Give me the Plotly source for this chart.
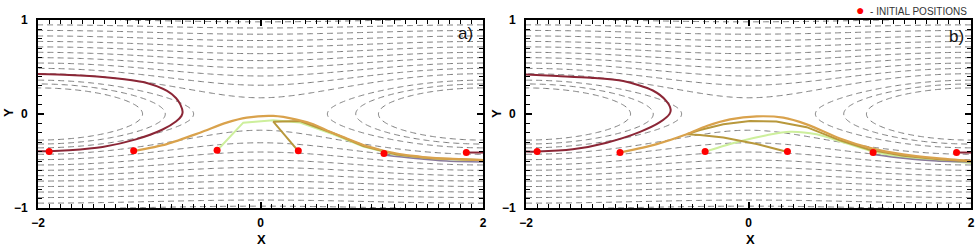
import numpy as np
import plotly.graph_objects as go

# ---------------- data ----------------
# background flow (cat's-eye streamfunction) parameters
field_eps = 0.405
field_a = 3.0
field_step_outer = 0.062
inner_level_start = -0.013
inner_level_step = 0.042
inner_level_end = 0.075

# initial positions
dots_a_x = [-1.90, -1.14, -0.39, 0.34, 1.11, 1.85]
dots_a_y = [-0.40, -0.39, -0.385, -0.39, -0.42, -0.41]
dots_b_x = [-1.90, -1.155, -0.39, 0.35, 1.12, 1.87]
dots_b_y = [-0.40, -0.41, -0.40, -0.40, -0.41, -0.41]

# panel a trajectories
maroon_a_x = [-2.00, -1.90, -1.72, -1.42, -1.12, -0.88, -0.76, -0.71, -0.70, -0.72, -0.76, -0.84, -1.03, -1.42, -1.72, -2.00]
maroon_a_y = [-0.395, -0.395, -0.385, -0.35, -0.27, -0.165, -0.08, -0.02, 0.02, 0.10, 0.17, 0.245, 0.333, 0.394, 0.415, 0.425]
maroon_a2_x = [1.85, 2.00]
maroon_a2_y = [-0.41, -0.41]
orange_a_x = [-1.134, -0.843, -0.544, -0.304, -0.124, 0.115, 0.325, 0.475, 0.625, 0.775, 0.924, 1.074, 1.224, 1.373, 1.524, 1.674, 2.00]
orange_a_y = [-0.394, -0.32, -0.199, -0.092, -0.039, -0.021, -0.06, -0.11, -0.19, -0.26, -0.33, -0.38, -0.42, -0.445, -0.465, -0.475, -0.49]
green_a_x = [-0.388, -0.155, 0.115, 0.355, 0.654, 0.924, 1.224, 1.524, 2.00]
green_a_y = [-0.386, -0.092, -0.067, -0.09, -0.215, -0.345, -0.435, -0.475, -0.495]
olive_a_x = [0.34, 0.115, 0.355, 0.654, 0.924, 1.224, 1.524, 2.00]
olive_a_y = [-0.394, -0.082, -0.075, -0.205, -0.34, -0.43, -0.47, -0.49]
purple_a_x = [1.11, 1.373, 1.674, 2.00]
purple_a_y = [-0.435, -0.47, -0.50, -0.51]

# panel b trajectories
maroon_b_x = [-2.00, -1.90, -1.58, -1.275, -0.975, -0.80, -0.71, -0.70, -0.74, -0.86, -1.126, -1.42, -1.72, -2.00]
maroon_b_y = [-0.40, -0.40, -0.376, -0.305, -0.19, -0.09, 0.0, 0.05, 0.14, 0.25, 0.35, 0.386, 0.404, 0.42]
maroon_b2_x = [1.87, 2.00]
maroon_b2_y = [-0.41, -0.41]
orange_b_x = [-1.155, -0.825, -0.555, -0.376, -0.166, 0.074, 0.313, 0.523, 0.822, 1.09, 1.39, 1.69, 2.00]
orange_b_y = [-0.41, -0.32, -0.216, -0.128, -0.057, -0.025, -0.039, -0.11, -0.26, -0.36, -0.43, -0.47, -0.50]
olive_b_x = [0.352, 0.074, -0.226, -0.436, -0.555, -0.436, -0.226, 0.013, 0.25, 0.523, 0.822, 1.09, 1.39, 1.69, 2.00]
olive_b_y = [-0.404, -0.32, -0.25, -0.223, -0.216, -0.17, -0.11, -0.074, -0.08, -0.14, -0.28, -0.38, -0.445, -0.48, -0.505]
green_b_x = [-0.39, -0.076, 0.164, 0.373, 0.613, 0.822, 1.09, 1.39, 1.69, 2.00]
green_b_y = [-0.40, -0.29, -0.225, -0.188, -0.216, -0.29, -0.39, -0.46, -0.49, -0.52]
purple_b_x = [1.12, 1.39, 1.69, 2.00]
purple_b_y = [-0.43, -0.47, -0.50, -0.51]

x_ticks = [-2, 0, 2]
y_ticks = [-1, 0, 1]

# ---------------- styling ----------------
C_MAROON = "#8b2636"
C_ORANGE = "#d9a24c"
C_OLIVE = "#b8983c"
C_GREEN = "#cdef9c"
C_PURPLE = "#8a7b9c"
C_DOT = "#ff0000"
C_CONT = "#7c7c7c"
FONT = "Liberation Sans, Arial, sans-serif"

W, H = 980, 246

# background field
gx = np.linspace(-2, 2, 361)
gy = np.linspace(-1, 1, 241)
GX, GY = np.meshgrid(gx, gy)
psi = np.log(np.cosh(field_a * GY) + field_eps * np.cos(np.pi * GX / 2)) / field_a
psi_sep = np.log(1 + field_eps) / field_a
outer_start = psi_sep + 0.5 * field_step_outer

fig = go.Figure()

def add_panel(xa, ya, traj, dx, dy):
    for (st, en, sz) in [(outer_start, float(psi.max()), field_step_outer),
                         (inner_level_start, inner_level_end, inner_level_step)]:
        fig.add_trace(go.Contour(
            x=gx, y=gy, z=psi, xaxis=xa, yaxis=ya,
            autocontour=False,
            contours=dict(start=st, end=en, size=sz, coloring="none"),
            line=dict(color=C_CONT, width=1, dash="6px,4px"),
            showscale=False, hoverinfo="skip", showlegend=False,
        ))
    for (tx, ty, col, w, shp) in traj:
        fig.add_trace(go.Scatter(
            x=tx, y=ty, xaxis=xa, yaxis=ya, mode="lines",
            line=dict(color=col, width=w, shape=shp, smoothing=0.8),
            showlegend=False, hoverinfo="skip",
        ))
    fig.add_trace(go.Scatter(
        x=dx, y=dy, xaxis=xa, yaxis=ya, mode="markers",
        marker=dict(color=C_DOT, size=7), showlegend=False, hoverinfo="skip",
    ))

add_panel("x", "y", [
    (green_a_x, green_a_y, C_GREEN, 2, "linear"),
    (purple_a_x, purple_a_y, C_PURPLE, 1.5, "spline"),
    (olive_a_x, olive_a_y, C_OLIVE, 2, "linear"),
    (orange_a_x, orange_a_y, C_ORANGE, 2.2, "spline"),
    (maroon_a_x, maroon_a_y, C_MAROON, 2, "spline"),
    (maroon_a2_x, maroon_a2_y, C_MAROON, 2, "linear"),
], dots_a_x, dots_a_y)

add_panel("x2", "y2", [
    (green_b_x, green_b_y, C_GREEN, 2, "spline"),
    (purple_b_x, purple_b_y, C_PURPLE, 1.5, "spline"),
    (olive_b_x, olive_b_y, C_OLIVE, 2, "linear"),
    (orange_b_x, orange_b_y, C_ORANGE, 2.2, "spline"),
    (maroon_b_x, maroon_b_y, C_MAROON, 2, "spline"),
    (maroon_b2_x, maroon_b2_y, C_MAROON, 2, "linear"),
], dots_b_x, dots_b_y)

tickfont = dict(family=FONT, size=12, color="black", weight="bold")

def xaxis(dom, anchor):
    return dict(domain=dom, range=[-2, 2], anchor=anchor, automargin=False,
                showline=True, linecolor="black", linewidth=2,
                mirror="ticks", ticks="inside", tickvals=x_ticks, ticklen=6, tickwidth=2,
                tickcolor="black", showgrid=False, zeroline=False, tickfont=tickfont,
                ticklabelstandoff=3,
                minor=dict(ticks="inside", dtick=0.1, ticklen=4, tickwidth=1.3, tickcolor="black", showgrid=False))

def yaxis(anchor):
    return dict(domain=[38 / H, 226 / H], range=[-1, 1], anchor=anchor, automargin=False,
                showline=True, linecolor="black", linewidth=2, mirror="ticks", ticks="inside",
                tickvals=y_ticks, ticklen=6, tickwidth=2, tickcolor="black", showgrid=False,
                zeroline=False, tickfont=tickfont, ticklabelstandoff=6,
                minor=dict(ticks="inside", dtick=0.1, ticklen=4, tickwidth=1.3, tickcolor="black", showgrid=False))

def px(x, y):
    return x / W, 1 - y / H

annots = []
def ann(text, x, y, size, bold=False, angle=0, xanchor="center", color="black"):
    ax, ay = px(x, y)
    f = dict(family=FONT, size=size, color=color)
    if bold:
        f["weight"] = "bold"
    annots.append(dict(text=text, x=ax, y=ay, xref="paper", yref="paper", showarrow=False,
                       font=f, textangle=angle, xanchor=xanchor, yanchor="middle"))

ann("X", 261, 239, 13, bold=True)
ann("X", 750, 239, 13, bold=True)
ann("Y", 8, 113, 13, bold=True, angle=-90)
ann("Y", 496, 113, 13, bold=True, angle=-90)
ann("a)", 465, 34, 17, color="#111111")
ann("b)", 956, 36, 17, color="#111111")
ann('<span style="color:#ff0000;font-size:14px">●</span>  - INITIAL POSITIONS', 969, 10, 10,
    xanchor="right", color="#333333")

fig.update_layout(
    template="none",
    width=W, height=H, margin=dict(l=0, r=0, t=0, b=0, pad=0),
    paper_bgcolor="white", plot_bgcolor="white",
    xaxis=xaxis([38 / W, 483 / W], "y"),
    yaxis=yaxis("x"),
    xaxis2=xaxis([526 / W, 971 / W], "y2"),
    yaxis2=yaxis("x2"),
    annotations=annots,
    showlegend=False,
)

fig.write_html(
    "out.html",
    config={"displayModeBar": False},
    post_script="document.body.style.margin='0';document.body.style.overflow='hidden';",
)
